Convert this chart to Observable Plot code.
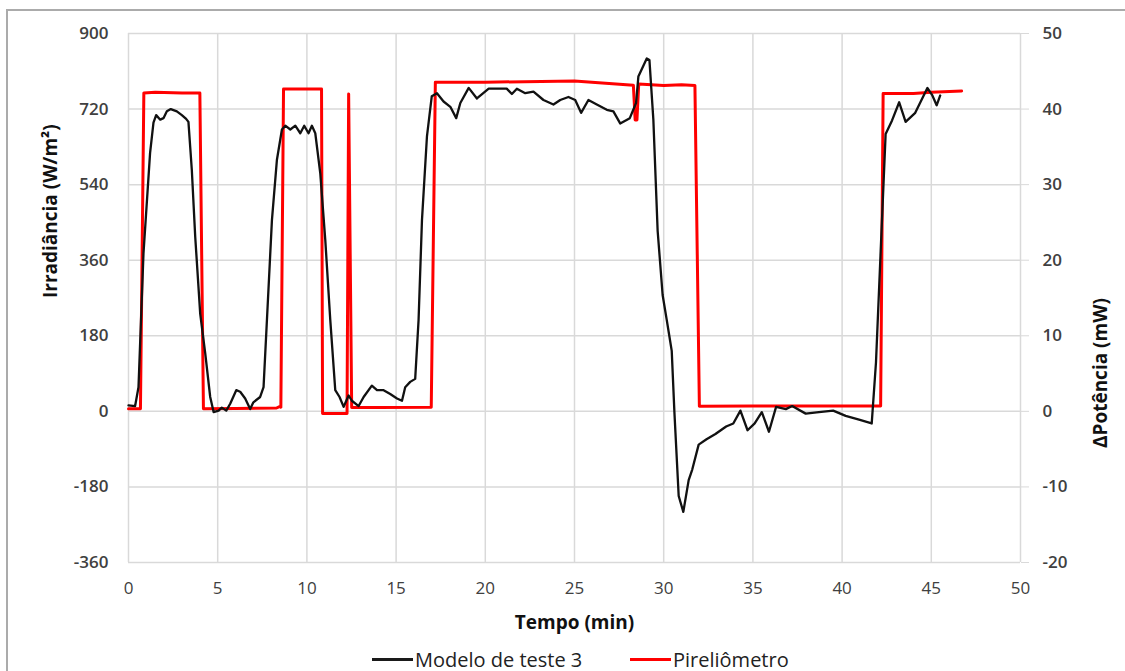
<!DOCTYPE html>
<html>
<head>
<meta charset="utf-8">
<script src="https://cdn.jsdelivr.net/npm/d3@7"></script>
<script src="https://cdn.jsdelivr.net/npm/@observablehq/plot@0.6"></script>
<style>
  html, body { margin: 0; padding: 0; background: #fff; }
  body { width: 1125px; height: 671px; overflow: hidden; position: relative; font-family: "Open Sans", "Liberation Sans", sans-serif; }
  #frame { position: absolute; left: 6px; top: 9px; width: 1200px; height: 700px; border-left: 2px solid #ababab; border-top: 2px solid #ababab; }
  #chart { position: absolute; left: 0; top: 0; }
  .item { position: absolute; top: 646px; display: flex; align-items: center; font-size: 20px; color: #222; white-space: nowrap; }
  .sw { display: inline-block; width: 41px; height: 3px; margin-right: 2px; }
</style>
</head>
<body>
<div id="frame"></div>
<div id="chart"></div>
<div class="item" style="left:372px"><span class="sw" style="background:#1a1a1a"></span><span>Modelo de teste 3</span></div>
<div class="item" style="left:630px"><span class="sw" style="background:#ff0000"></span><span>Pireliômetro</span></div>
<script>
// Time (min) and irradiance (W/m²) for the pyrheliometer
const redT = [0, 0.67, 0.86, 1.5, 3.0, 4.0, 4.2, 6, 8.3, 8.5, 8.54, 8.69, 10, 10.82, 10.88, 12.25, 12.34, 12.51, 14, 16.97, 17.2, 20, 25, 28.3, 28.4, 28.5, 28.6, 30, 31, 31.75, 32.0, 35, 38, 42.16, 42.3, 44, 45, 46.7];
const redW = [6, 6, 758, 760, 758, 758, 6, 7, 8, 12, 10, 768, 768, 768, -5, -5, 756, 9, 9, 10, 784, 784, 787, 777, 694, 694, 780, 776, 778, 776, 12, 13, 13, 13, 757, 757, 760, 763];

// Time (min) and ΔPotência (mW) for the test model
const blackT = [0, 0.37, 0.56, 0.84, 1.21, 1.4, 1.55, 1.78, 1.96, 2.15, 2.37, 2.71, 2.99, 3.23, 3.36, 3.55, 3.74, 4.02, 4.3, 4.58, 4.77, 5.05, 5.23, 5.48, 5.7, 6.04, 6.26, 6.54, 6.82, 7.0, 7.38, 7.57, 7.76, 8.04, 8.32, 8.6, 8.79, 9.07, 9.35, 9.63, 9.85, 10.09, 10.28, 10.47, 10.75, 11.03, 11.31, 11.59, 11.83, 12.06, 12.34, 12.52, 12.9, 13.18, 13.64, 13.93, 14.3, 14.67, 15.05, 15.33, 15.51, 15.79, 16.07, 16.26, 16.45, 16.73, 17.0, 17.29, 17.66, 18.04, 18.37, 18.6, 19.07, 19.53, 20.19, 20.65, 21.2, 21.49, 21.77, 22.24, 22.7, 23.26, 23.82, 24.2, 24.66, 25.04, 25.37, 25.78, 26.25, 26.81, 27.18, 27.56, 28.1, 28.45, 28.58, 29.05, 29.2, 29.42, 29.66, 29.94, 30.17, 30.3, 30.45, 30.6, 30.84, 31.1, 31.4, 31.6, 31.96, 32.4, 32.9, 33.5, 33.9, 34.3, 34.7, 35.1, 35.5, 35.9, 36.3, 36.85, 37.2, 37.96, 38.7, 39.5, 40.2, 40.95, 41.66, 41.9, 42.16, 42.44, 42.8, 43.2, 43.56, 44.1, 44.78, 45.06, 45.3, 45.5];
const blackMW = [0.8, 0.7, 3.2, 20.9, 34.2, 38.2, 39.2, 38.6, 38.8, 39.7, 40.0, 39.7, 39.2, 38.7, 38.3, 31.9, 23.1, 12.9, 7.7, 1.9, -0.1, 0.1, 0.5, 0.1, 1.0, 2.8, 2.6, 1.7, 0.3, 1.2, 1.9, 3.2, 12.1, 25.3, 33.3, 37.3, 37.8, 37.3, 37.8, 36.8, 37.8, 36.8, 37.8, 36.8, 31.5, 22.7, 12.1, 2.8, 1.9, 0.6, 2.1, 1.4, 0.7, 1.9, 3.4, 2.8, 2.8, 2.3, 1.7, 1.4, 3.2, 3.9, 4.3, 12.1, 25.3, 36.4, 41.7, 42.1, 41.0, 40.3, 38.8, 40.8, 42.8, 41.4, 42.7, 42.7, 42.7, 42.0, 42.7, 42.1, 42.3, 41.2, 40.6, 41.2, 41.6, 41.2, 39.5, 41.2, 40.6, 39.9, 39.7, 38.1, 38.8, 40.8, 44.3, 46.7, 46.5, 38.6, 23.9, 15.4, 12.1, 10.2, 8.0, -0.1, -11.2, -13.3, -9.1, -7.7, -4.4, -3.7, -3.0, -2.0, -1.6, 0.1, -2.5, -1.6, -0.1, -2.7, 0.6, 0.3, 0.7, -0.3, -0.1, 0.1, -0.6, -1.1, -1.6, 6.5, 21.1, 36.7, 38.5, 40.9, 38.3, 39.5, 42.8, 41.8, 40.5, 41.8];

// Axis ticks
const xTicks = [0, 5, 10, 15, 20, 25, 30, 35, 40, 45, 50];
const leftTicks = [-360, -180, 0, 180, 360, 540, 720, 900];
const rightTicks = [-20, -10, 0, 10, 20, 30, 40, 50];
const k = 900 / 50; // W/m² per mW on the shared vertical scale

const red = redT.map((t, i) => ({t, v: redW[i]}));
const black = blackT.map((t, i) => ({t, v: blackMW[i]}));

const tickFont = {fontFamily: "Open Sans, sans-serif", fontSize: 17, fontWeight: 600, fill: "#404040"};
const titleFont = {fontFamily: "Open Sans, sans-serif", fontSize: 19, fontWeight: 700, fill: "#111"};

const chart = Plot.plot({
  width: 1125,
  height: 645,
  marginLeft: 128,
  marginRight: 105,
  marginTop: 33,
  marginBottom: 83,
  style: {background: "transparent", overflow: "visible"},
  x: {domain: [0, 50], nice: false},
  y: {domain: [-360, 900], nice: false},
  marks: [
    Plot.gridX(xTicks, {stroke: "#d9d9d9", strokeOpacity: 1, strokeWidth: 1.5}),
    Plot.gridY(leftTicks, {stroke: "#d9d9d9", strokeOpacity: 1, strokeWidth: 1.5}),
    Plot.axisY(leftTicks, {anchor: "left", tickSize: 0, tickPadding: 20, label: null, tickFormat: d => String(d), ...tickFont}),
    Plot.axisY(rightTicks.map(d => d * k), {anchor: "right", tickSize: 8, tickPadding: 14, stroke: "#d9d9d9", tickFormat: d => String(Math.round(d / k)), label: null, ...tickFont}),
    Plot.axisX(xTicks, {anchor: "bottom", tickSize: 0, tickPadding: 19, label: null, tickFormat: d => String(d), ...tickFont, fontWeight: 500}),
    Plot.text(["Irradiância (W/m²)"], {text: d => d, frameAnchor: "left", dx: -78, rotate: -90, ...titleFont}),
    Plot.text(["ΔPotência (mW)"], {text: d => d, frameAnchor: "right", dx: 80, rotate: -90, ...titleFont}),
    Plot.text(["Tempo (min)"], {text: d => d, frameAnchor: "bottom", dy: 66, ...titleFont}),
    Plot.line(red, {x: "t", y: "v", stroke: "#ff0000", strokeWidth: 3}),
    Plot.line(black, {x: "t", y: d => d.v * k, stroke: "#111", strokeWidth: 2.3})
  ]
});
document.getElementById("chart").appendChild(chart);
</script>
</body>
</html>
